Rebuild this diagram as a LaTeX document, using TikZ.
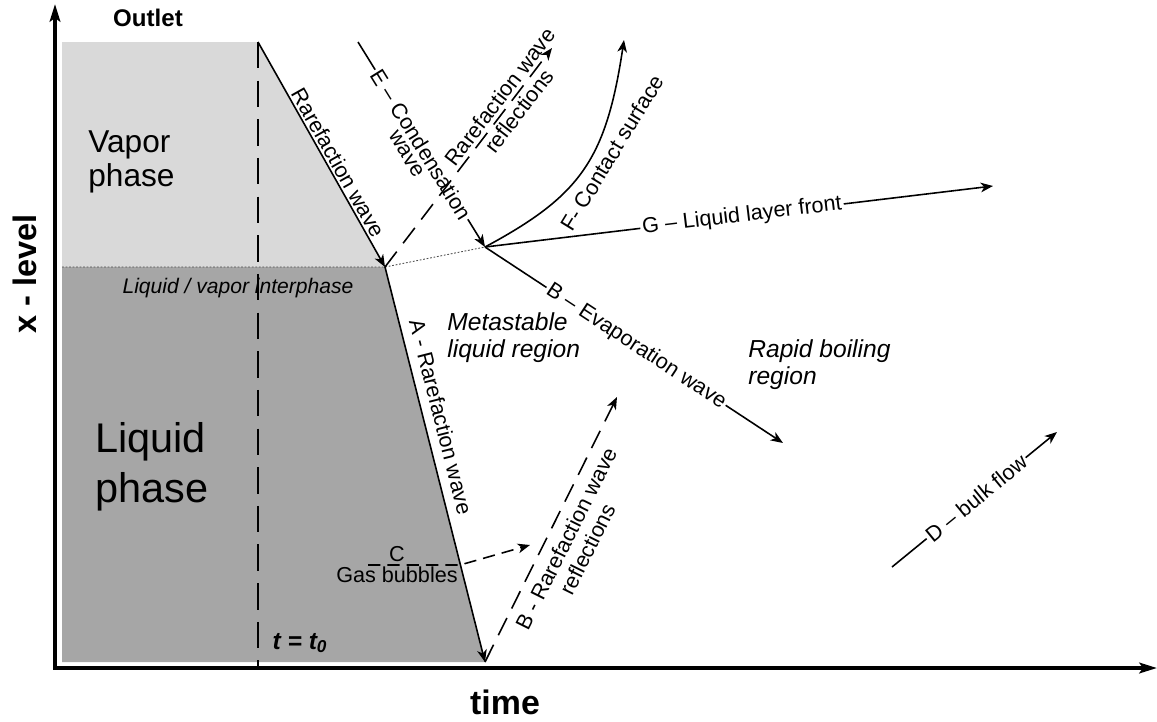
\documentclass[tikz,border=0pt]{standalone}
\usepackage{fontspec}
\setmainfont{Liberation Sans}
\usetikzlibrary{arrows.meta,calc}
\definecolor{vapor}{HTML}{D9D9D9}
\definecolor{liquid}{HTML}{A6A6A6}

\begin{document}
\begin{tikzpicture}[x=0.02cm,y=-0.02cm,
  lbl/.style={font=\fontsize{12.3}{13.5}\selectfont, inner sep=1pt},
  wave/.style={line width=0.9pt},
  tip/.style={-{Stealth[length=7pt,width=5.5pt,inset=2pt]}},
  refl/.style={line width=0.9pt, dash pattern=on 11pt off 6pt},
  region/.style={font=\fontsize{14}{15.5}\selectfont\itshape, align=left, anchor=north west, inner sep=0pt},
  phase/.style={align=left, anchor=north west, inner sep=0pt}]
\useasboundingbox (0,0) rectangle (1157,721);
\coordinate (ytop) at (55,4);
\coordinate (orig) at (55,668);
\coordinate (xend) at (1157,668);
\coordinate (out) at (258,42);
\coordinate (ifc) at (385,267);
\coordinate (jct) at (485,247);
\coordinate (bot) at (485,662);
\coordinate (etop) at (358,42);
\coordinate (rtip) at (552,48);
\coordinate (ftip) at (624,40);
\coordinate (gtip) at (993,186);
\coordinate (btip) at (783,443);
\coordinate (ltip) at (617,397);
\coordinate (dstart) at (892,567);
\coordinate (dtip) at (1057,432);
\coordinate (cstart) at (368,565);
\coordinate (cbend) at (460,565);
\coordinate (ctip) at (530,545);

\fill[vapor] (62,42) -- (out) -- (ifc) -- (62,267) -- cycle;
\fill[liquid] (62,267) -- (ifc) -- (bot) -- (62,662) -- cycle;
\draw[gray!60!black, line width=0.5pt, dash pattern=on 1pt off 1pt] (62,267) -- (ifc) -- (jct);
\draw[line width=1pt, dash pattern=on 15pt off 7pt] (out) -- (258,668);
\draw[line width=2.2pt, {Stealth[length=10pt,width=6pt,inset=2pt]}-{Stealth[length=10pt,width=6pt,inset=2pt]}] (ytop) -- (orig) -- (xend);

\node[font=\bfseries\fontsize{18.5}{20}\selectfont, rotate=90] (xlevel) at (25,274) {x - level};
\node[font=\bfseries\fontsize{19.3}{21}\selectfont, inner sep=0pt] (time) at (505,702) {time};
\node[font=\bfseries\fontsize{13.7}{15}\selectfont] (outlet) at (148,18) {Outlet};
\node[phase, font=\fontsize{18}{19.3}\selectfont] (vaporlbl) at (88,130) {Vapor\\phase};
\node[phase, font=\fontsize{23.6}{28.3}\selectfont] (liquidlbl) at (95,422) {Liquid\\phase};
\node[font=\itshape\fontsize{12}{13}\selectfont, anchor=base] (ilbl) at (238,293) {Liquid / vapor interphase};
\node[font=\bfseries\itshape\fontsize{14}{15}\selectfont] (tzero) at (300,643) {t = t\textsubscript{0}};
\node[region] (meta) at (447,312) {Metastable\\liquid region};
\node[region] (rapid) at (748,339) {Rapid boiling\\region};

\draw[wave,tip] (out) -- node[lbl, sloped, above, pos=0.56] (rarelbl) {Rarefaction wave} (ifc);
\draw[wave,tip] (ifc) -- node[lbl, sloped, above=4pt, pos=0.39] (albl) {A - Rarefaction wave} (bot);
\draw[refl,tip] (ifc) -- node[lbl, sloped, pos=0.745, align=center] (rrefl) {Rarefaction wave\\reflections} (rtip);
\draw[refl,tip] (bot) -- node[lbl, sloped, below=4pt, pos=0.495, align=center] (lrefl) {B - Rarefaction wave\\reflections} (ltip);

\node[lbl, rotate=-58.2] (econd) at ($(etop)!0.5!(jct)$) {E – Condensation};
\node[lbl, rotate=-58.2, anchor=north] (ewave) at (econd.south) {wave};
\draw[wave] (etop) -- (econd);
\draw[wave,tip] (econd) -- (jct);

\draw[wave,tip] (jct) .. controls (580,196) and (606,160) .. (ftip);
\node[lbl, rotate=58.5] (fcont) at (612,153) {F- Contact surface};

\node[lbl, rotate=6.85] (gfront) at ($(jct)!0.506!(gtip)$) {G – Liquid layer front};
\draw[wave] (jct) -- (gfront);
\draw[wave,tip] (gfront) -- (gtip);

\node[lbl, rotate=-33.3] (bevap) at ($(jct)!0.507!(btip)$) {B – Evaporation wave};
\draw[wave] (jct) -- (bevap);
\draw[wave,tip] (bevap) -- (btip);

\node[lbl, rotate=39.3] (dbulk) at ($(dstart)!0.51!(dtip)$) {D – bulk flow};
\draw[wave] (dstart) -- (dbulk);
\draw[wave,tip] (dbulk) -- (dtip);

\node[font=\fontsize{12.3}{11.9}\selectfont, align=center, inner sep=0pt] (gas) at (397,565) {C\\Gas bubbles};
\draw[line width=0.9pt, dash pattern=on 7pt off 4pt, tip] (cstart) -- (cbend) -- (ctip);
\end{tikzpicture}
\end{document}
